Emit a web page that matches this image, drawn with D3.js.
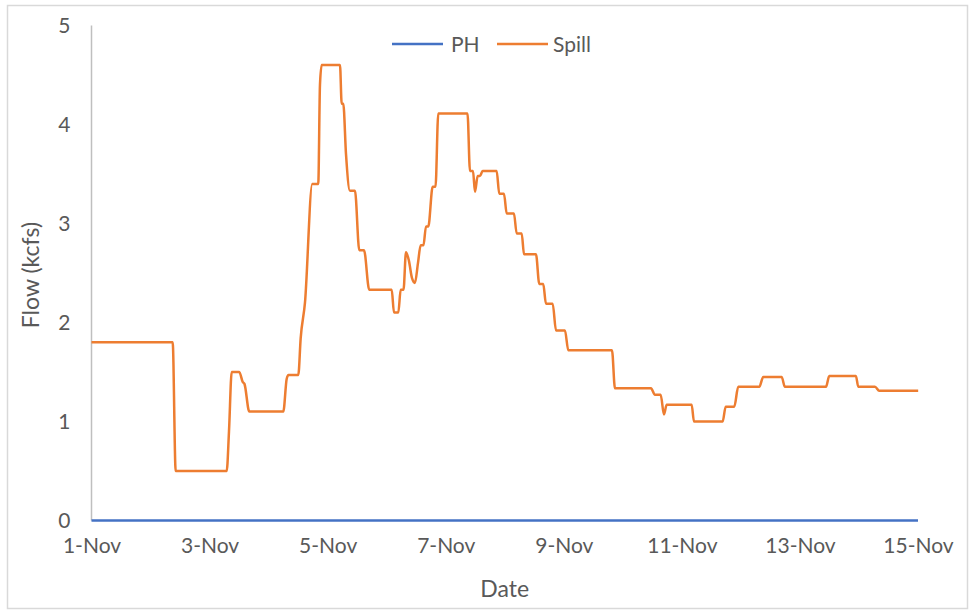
<!DOCTYPE html>
<html>
<head>
<meta charset="utf-8">
<script src="https://cdn.jsdelivr.net/npm/d3@7"></script>
<style>
  html, body { margin: 0; padding: 0; background: #fff; }
  svg { display: block; }
  text { font-family: Lato, "Open Sans", "Liberation Sans", sans-serif; fill: #595959; }
</style>
</head>
<body>
<svg id="chart" width="969" height="611"></svg>
<script>
// ---- data ----
const seriesNames = ["PH", "Spill"];
const seriesColors = ["#4472C4", "#ED7D31"];
const startDate = "2021-11-01";
// Spill: days since 1-Nov 00:00 and flow (kcfs)
const spillDays = [0.000, 1.375, 1.426, 2.290, 2.329, 2.375, 2.503, 2.561, 2.591, 2.673, 3.249, 3.306, 3.337, 3.503,
  3.543, 3.616, 3.740, 3.841, 3.870, 3.899, 4.209, 4.238, 4.265, 4.311, 4.378, 4.463, 4.536, 4.616, 4.705, 5.085,
  5.124, 5.197, 5.237, 5.285, 5.327, 5.378, 5.428, 5.479, 5.530, 5.576, 5.623, 5.666, 5.705, 5.779, 5.827, 5.874,
  6.369, 6.411, 6.462, 6.496, 6.541, 6.580, 6.626, 6.863, 6.907, 6.987, 7.033, 7.156, 7.202, 7.287, 7.326, 7.529,
  7.585, 7.652, 7.698, 7.812, 7.868, 8.020, 8.076, 8.816, 8.867, 9.477, 9.544, 9.641, 9.697, 9.743, 10.166, 10.205,
  10.691, 10.742, 10.888, 10.955, 11.311, 11.379, 11.690, 11.746, 12.441, 12.497, 12.949, 12.988, 13.271, 13.343, 14.003];
const spillValues = [1.80, 1.80, 0.50, 0.50, 0.90, 1.50, 1.50, 1.40, 1.38, 1.10, 1.10, 1.43, 1.47, 1.47,
  1.84, 2.20, 3.40, 3.40, 4.40, 4.60, 4.60, 4.21, 4.21, 3.70, 3.33, 3.33, 2.73, 2.73, 2.33, 2.33,
  2.10, 2.10, 2.33, 2.33, 2.71, 2.62, 2.45, 2.40, 2.60, 2.78, 2.78, 2.97, 2.97, 3.37, 3.37, 4.11,
  4.11, 3.53, 3.53, 3.32, 3.48, 3.48, 3.53, 3.53, 3.30, 3.30, 3.10, 3.10, 2.90, 2.90, 2.69, 2.69,
  2.39, 2.39, 2.19, 2.19, 1.92, 1.92, 1.72, 1.72, 1.335, 1.335, 1.27, 1.27, 1.07, 1.17, 1.17, 1.00,
  1.00, 1.15, 1.15, 1.35, 1.35, 1.45, 1.45, 1.35, 1.35, 1.46, 1.46, 1.35, 1.35, 1.31, 1.31];
// PH: zero throughout
const phDays = [0, 14];
const phValues = [0, 0];
const yTicks = [0, 1, 2, 3, 4, 5];
const xTickDays = [0, 2, 4, 6, 8, 10, 12, 14];
const xTitle = "Date";
const yTitle = "Flow (kcfs)";

// ---- drawing ----
const svg = d3.select("#chart");
const plot = { left: 91.5, right: 918, top: 25.5, bottom: 520.5 };
const t0 = new Date(startDate + "T00:00:00Z");
const toDate = d => new Date(t0.getTime() + d * 86400000);

svg.append("rect").attr("x", 7.5).attr("y", 5.5).attr("width", 960).attr("height", 603)
  .attr("fill", "#fff").attr("stroke", "#d9d9d9").attr("stroke-width", 1.5);

const x = d3.scaleUtc().domain([toDate(0), toDate(14)]).range([plot.left, plot.right]);
const y = d3.scaleLinear().domain([0, 5]).range([plot.bottom, plot.top]);

// y axis line
svg.append("line").attr("x1", plot.left).attr("x2", plot.left)
  .attr("y1", y(5)).attr("y2", y(0)).attr("stroke", "#bfbfbf").attr("stroke-width", 1.5);

// y axis labels
const yAxis = d3.axisLeft(y).tickValues(yTicks).tickSize(0).tickPadding(21).tickFormat(d3.format("d"));
const gy = svg.append("g").attr("transform", `translate(${plot.left},0)`).call(yAxis);
gy.select(".domain").remove();
gy.selectAll("text").style("font-size", "21px").attr("fill", "#595959");

// x axis labels
const xAxis = d3.axisBottom(x).tickValues(xTickDays.map(toDate)).tickSize(0).tickPadding(18)
  .tickFormat(d3.utcFormat("%-d-%b"));
const gx = svg.append("g").attr("transform", `translate(0,${plot.bottom})`).call(xAxis);
gx.select(".domain").remove();
gx.selectAll("text").style("font-size", "21px").attr("fill", "#595959");

// titles
svg.append("text").attr("x", (plot.left + plot.right) / 2).attr("y", 597)
  .attr("text-anchor", "middle").style("font-size", "23px").text(xTitle);
svg.append("text").attr("transform", `translate(39,${(plot.top + plot.bottom) / 2 + 2}) rotate(-90)`)
  .attr("text-anchor", "middle").style("font-size", "23px").text(yTitle);

// lines
const line = d3.line().x(d => x(toDate(d[0]))).y(d => y(d[1])).curve(d3.curveMonotoneX);
const spill = spillDays.map((d, i) => [d, spillValues[i]]);
const ph = phDays.map((d, i) => [d, phValues[i]]);
svg.append("path").datum(spill).attr("d", line).attr("fill", "none")
  .attr("stroke", seriesColors[1]).attr("stroke-width", 2.5).attr("stroke-linejoin", "round");
svg.append("path").datum(ph).attr("d", line).attr("fill", "none")
  .attr("stroke", seriesColors[0]).attr("stroke-width", 2.5);

// legend
const legend = [{ x: 392, tx: 451 }, { x: 497, tx: 553 }];
seriesNames.forEach((name, i) => {
  svg.append("line").attr("x1", legend[i].x).attr("x2", legend[i].x + 51)
    .attr("y1", 44).attr("y2", 44).attr("stroke", seriesColors[i]).attr("stroke-width", 2.5);
  svg.append("text").attr("x", legend[i].tx).attr("y", 51.5).style("font-size", "21px").text(name);
});
</script>
</body>
</html>
